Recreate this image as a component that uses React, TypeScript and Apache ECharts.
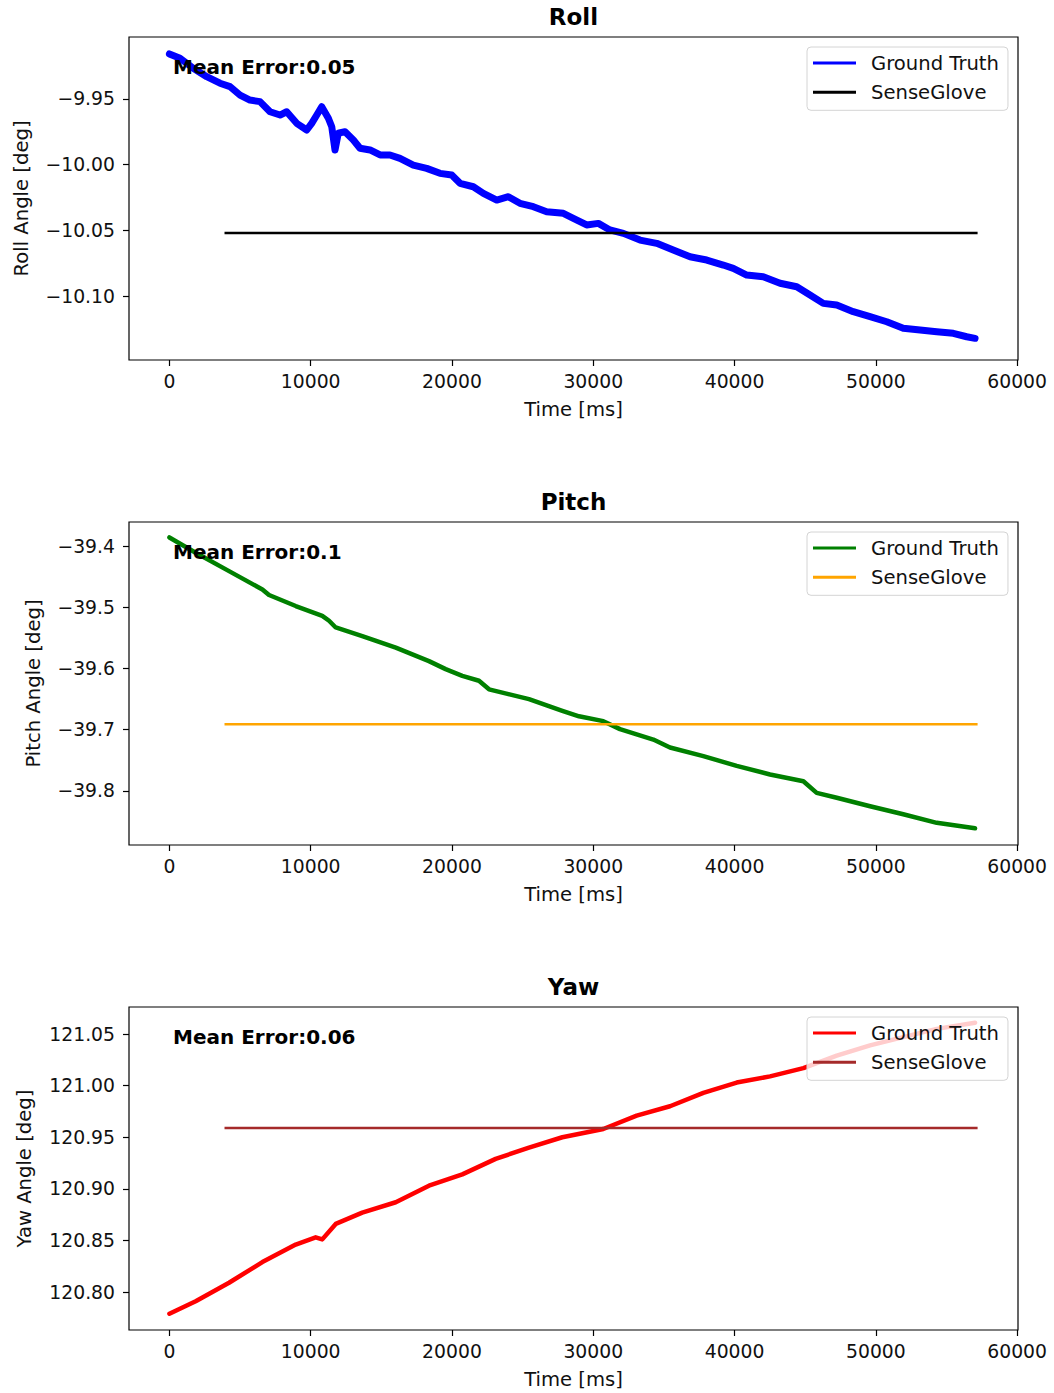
import React, { useEffect, useRef } from "react";
import * as echarts from "echarts";

// ---------- data ----------
const xTicks = [0, 10000, 20000, 30000, 40000, 50000, 60000];

const rollTicks = [-10.1, -10.05, -10.0, -9.95];
const pitchTicks = [-39.8, -39.7, -39.6, -39.5, -39.4];
const yawTicks = [120.8, 120.85, 120.9, 120.95, 121.0, 121.05];

const rollT = [0, 750, 1690, 2640, 3580, 4290, 5000, 5700, 6410, 7120, 7830, 8300, 9010, 9720, 10070, 10430, 10780, 11250, 11490, 11720, 11950, 12430, 13020, 13490, 14200, 14910, 15610, 16320, 17260, 18210, 19150, 19980, 20570, 21510, 22220, 23170, 23990, 24810, 25760, 26700, 27880, 28590, 29530, 30360, 31180, 32130, 33310, 34490, 35660, 36850, 38030, 39200, 39910, 40860, 42030, 43220, 44400, 45340, 46280, 47230, 48400, 49590, 50770, 51940, 53130, 54310, 55480, 56430, 57020];
const rollV = [-9.9157, -9.919, -9.9266, -9.933, -9.938, -9.9406, -9.947, -9.9508, -9.952, -9.9597, -9.9622, -9.9597, -9.9685, -9.9736, -9.9685, -9.9622, -9.9559, -9.9647, -9.9711, -9.9888, -9.9761, -9.9749, -9.9812, -9.9875, -9.9888, -9.9926, -9.9926, -9.9952, -10.0003, -10.0028, -10.0066, -10.0079, -10.0142, -10.0168, -10.0218, -10.0269, -10.0244, -10.0294, -10.032, -10.0358, -10.037, -10.0408, -10.0459, -10.0447, -10.0497, -10.0523, -10.0574, -10.0599, -10.065, -10.0701, -10.0726, -10.0764, -10.0789, -10.084, -10.0853, -10.0903, -10.0929, -10.0992, -10.1056, -10.1069, -10.1119, -10.1157, -10.1196, -10.1246, -10.1259, -10.1272, -10.1284, -10.131, -10.1322];

const pitchT = [0, 1860, 4220, 6580, 7050, 8940, 10820, 11300, 11770, 13650, 16020, 18370, 19550, 20730, 21910, 22620, 25450, 27810, 28990, 30710, 31890, 34250, 35430, 37790, 40150, 42510, 44870, 45810, 47230, 49590, 51940, 54310, 57020];
const pitchV = [-39.386, -39.411, -39.441, -39.471, -39.48, -39.498, -39.514, -39.522, -39.533, -39.547, -39.566, -39.588, -39.601, -39.612, -39.62, -39.634, -39.65, -39.669, -39.678, -39.686, -39.699, -39.716, -39.729, -39.743, -39.759, -39.773, -39.784, -39.803, -39.811, -39.825, -39.838, -39.852, -39.861];

const yawT = [0, 1860, 4220, 6580, 8940, 10350, 10820, 11770, 13650, 16020, 18370, 20730, 23090, 25450, 27810, 30710, 33070, 35430, 37790, 40150, 42510, 44870, 47230, 49590, 51940, 54310, 57020];
const yawV = [120.779, 120.791, 120.809, 120.829, 120.846, 120.853, 120.851, 120.866, 120.877, 120.887, 120.903, 120.914, 120.929, 120.94, 120.95, 120.958, 120.971, 120.98, 120.993, 121.003, 121.009, 121.017, 121.029, 121.039, 121.047, 121.055, 121.061];

const senseT = [3900, 57200];
const rollSense = [-10.052, -10.052];
const pitchSense = [-39.691, -39.691];
const yawSense = [120.959, 120.959];

const titles = ["Roll", "Pitch", "Yaw"];
const yNames = ["Roll Angle [deg]", "Pitch Angle [deg]", "Yaw Angle [deg]"];
const meanErrors = ["Mean Error:0.05", "Mean Error:0.1", "Mean Error:0.06"];
const legendNames = ["Ground Truth", "SenseGlove"];

// ---------- layout ----------
const FONT = '"DejaVu Sans", "Noto Sans", sans-serif';
const gridTops = [37, 522, 1007];
const gridH = 323;
const gridLeft = 129;
const gridW = 889;
const xMin = -2860;
const xMax = 60060;
const yRanges = [
  [-10.1487, -9.9028],
  [-39.8882, -39.3608],
  [120.7632, 121.0762],
];
const yTickSets = [rollTicks, pitchTicks, yawTicks];
const yDecimals = [2, 1, 2];
const yNameX = [21, 33, 24];
const gtColors = ["#0000ff", "#008000", "#ff0000"];
const sgColors = ["#000000", "#ffa500", "#a52a2a"];
const gtWidths = [7, 4.5, 4.5];

const zip = (t: number[], v: number[]) => t.map((x, i) => [x, v[i]]);
const fmtMinus = (v: number, d: number) =>
  (v < 0 ? "\u2212" : "") + Math.abs(v).toFixed(d);

export default function App() {
  const ref = useRef<HTMLDivElement>(null);

  useEffect(() => {
    if (!ref.current) return;
    const chart = echarts.init(ref.current, null, { renderer: "svg" });

    const gtData = [zip(rollT, rollV), zip(pitchT, pitchV), zip(yawT, yawV)];
    const sgData = [zip(senseT, rollSense), zip(senseT, pitchSense), zip(senseT, yawSense)];

    const grids = gridTops.map((top) => ({
      left: gridLeft,
      top,
      width: gridW,
      height: gridH,
      show: true,
      borderColor: "#000",
      borderWidth: 1.2,
      backgroundColor: "transparent",
      containLabel: false,
    }));

    const xAxes = gridTops.map((_, i) => ({
      type: "value",
      gridIndex: i,
      min: xMin,
      max: xMax,
      name: "Time [ms]",
      nameLocation: "middle",
      nameGap: 39,
      nameTextStyle: { fontFamily: FONT, fontSize: 19.6, color: "#111" },
      axisLine: { show: false, onZero: false },
      splitLine: { show: false },
      axisTick: {
        show: true,
        length: 6,
        lineStyle: { color: "#000", width: 1.2 },
        customValues: xTicks,
      },
      axisLabel: {
        show: true,
        margin: 12,
        fontFamily: FONT,
        fontSize: 18.8,
        color: "#111",
        customValues: xTicks,
        formatter: (v: number) => String(v),
      },
    }));

    const yAxes = gridTops.map((_, i) => ({
      type: "value",
      gridIndex: i,
      min: yRanges[i][0],
      max: yRanges[i][1],
      axisLine: { show: false, onZero: false },
      splitLine: { show: false },
      axisTick: {
        show: true,
        length: 6,
        lineStyle: { color: "#000", width: 1.2 },
        customValues: yTickSets[i],
      },
      axisLabel: {
        show: true,
        margin: 14,
        fontFamily: FONT,
        fontSize: 18.8,
        color: "#111",
        customValues: yTickSets[i],
        formatter: (v: number) => fmtMinus(v, yDecimals[i]),
      },
    }));

    const series: any[] = [];
    gridTops.forEach((_, i) => {
      series.push({
        name: titles[i] + "|" + legendNames[0],
        type: "line",
        xAxisIndex: i,
        yAxisIndex: i,
        data: gtData[i],
        showSymbol: false,
        symbol: "none",
        color: gtColors[i],
        lineStyle: { color: gtColors[i], width: gtWidths[i], join: "round", cap: "round" },
        z: 2,
      });
      series.push({
        name: titles[i] + "|" + legendNames[1],
        type: "line",
        xAxisIndex: i,
        yAxisIndex: i,
        data: sgData[i],
        showSymbol: false,
        symbol: "none",
        color: sgColors[i],
        lineStyle: { color: sgColors[i], width: 2.6 },
        z: 3,
      });
    });

    const legends = gridTops.map((top, i) => ({
      data: [titles[i] + "|" + legendNames[0], titles[i] + "|" + legendNames[1]],
      orient: "vertical",
      left: 807,
      top: top + 10,
      padding: [5, 9, 7, 6],
      itemWidth: 43,
      itemHeight: 3,
      itemGap: 7.3,
      icon: "rect",
      selectedMode: false,
      backgroundColor: "rgba(255,255,255,0.8)",
      borderColor: "#d4d4d4",
      borderWidth: 1,
      borderRadius: 4,
      formatter: (name: string) => name.split("|")[1],
      textStyle: {
        fontFamily: FONT,
        fontSize: 19.6,
        color: "#111",
        lineHeight: 22,
        padding: [0, 0, 0, 10],
      },
      z: 10,
    }));

    const titleOpts = gridTops.map((top, i) => ({
      text: titles[i],
      left: gridLeft + gridW / 2,
      top: top - 32,
      textAlign: "center",
      padding: 0,
      textStyle: { fontFamily: FONT, fontSize: 23, fontWeight: "bold", color: "#000" },
    }));

    const graphics: any[] = [];
    gridTops.forEach((top, i) => {
      graphics.push({
        type: "text",
        x: 173,
        y: top + 30,
        z: 100,
        style: {
          text: meanErrors[i],
          font: `bold 20px ${FONT}`,
          fill: "#000",
          textAlign: "left",
          textVerticalAlign: "middle",
        },
      });
      graphics.push({
        type: "text",
        x: yNameX[i],
        y: top + gridH / 2,
        rotation: Math.PI / 2,
        z: 100,
        style: {
          text: yNames[i],
          font: `19.6px ${FONT}`,
          fill: "#111",
          textAlign: "center",
          textVerticalAlign: "middle",
        },
      });
    });

    chart.setOption({
      animation: false,
      backgroundColor: "#fff",
      title: titleOpts,
      grid: grids,
      xAxis: xAxes,
      yAxis: yAxes,
      legend: legends,
      series,
      graphic: graphics,
    });

    return () => chart.dispose();
  }, []);

  return (
    <div
      ref={ref}
      style={{ position: "absolute", left: 0, top: 0, width: 1054, height: 1393 }}
    />
  );
}
